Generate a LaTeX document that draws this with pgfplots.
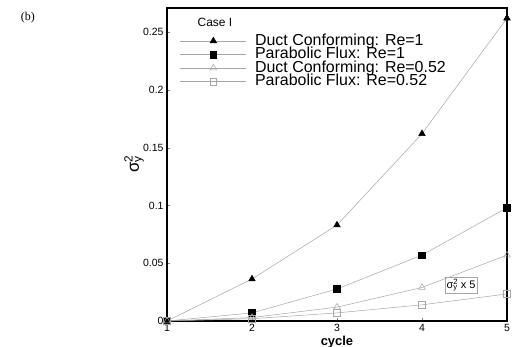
\documentclass[border=0pt]{standalone}
\usepackage{fontspec}
\setmainfont{Liberation Sans}
\newfontfamily\seriffont{Liberation Serif}
\usepackage{pgfplots}
\pgfplotsset{compat=1.18}
\begin{document}
\begin{tikzpicture}
\path[use as bounding box] (-167bp,-26bp) rectangle (348bp,321bp);
\begin{axis}[
  scale only axis, width=340bp, height=313bp,
  xmin=1, xmax=5, ymin=0, ymax=0.2708,
  xtick={1,2,3,4,5}, ytick={0,0.05,0.1,0.15,0.2,0.25},
  yticklabels={0,0.05,0.1,0.15,0.2,0.25},
  tick align=inside, major tick length=3bp,
  xtick pos=bottom, ytick pos=left,
  axis line style={line width=1.2bp},
  tick label style={font=\fontsize{10.5}{12}\selectfont},
  /pgf/number format/assume math mode=true,
  clip=false,
  every axis plot/.append style={gray!70, line width=0.5bp},
  legend image code/.code={\draw[mark repeat=2,mark phase=2] plot coordinates {(0bp,0bp) (33bp,0bp) (66bp,0bp)};},
  legend style={draw=none, fill=none, at={(rel axis cs:0.038,0.915)}, anchor=north west,
    font=\fontsize{16}{16}\selectfont, row sep=1.2bp, inner sep=0bp,
    nodes={inner sep=0.5bp, text height=9.8bp, text depth=1.5bp, font=\fontsize{16}{16}\selectfont}},
  legend cell align=left,
]
\addplot[mark=triangle*, mark size=3.8bp, mark options={black, fill=black}] coordinates {
 (1,0) (2,0.0363) (3,0.083) (4,0.162) (5,0.262)};
\addlegendentry{\hspace{8bp}Duct Conforming: Re=1}
\addplot[mark=square*, mark size=3.3bp, mark options={black, fill=black}] coordinates {
 (1,0) (2,0.007) (3,0.0277) (4,0.057) (5,0.098)};
\addlegendentry{\hspace{8bp}Parabolic Flux: Re=1}
\addplot[mark=triangle, mark size=3.8bp, mark options={gray!70}] coordinates {
 (1,0) (2,0.003) (3,0.012) (4,0.029) (5,0.057)};
\addlegendentry{\hspace{8bp}Duct Conforming: Re=0.52}
\addplot[mark=square, mark size=3.3bp, mark options={gray!70}] coordinates {
 (1,0) (2,0.002) (3,0.007) (4,0.014) (5,0.0234)};
\addlegendentry{\hspace{8bp}Parabolic Flux: Re=0.52}
\node[font=\fontsize{12}{13}\selectfont] at (rel axis cs:0.141,0.955) {Case I};
\node[draw=gray!70, line width=0.5bp, inner sep=1.5bp, font=\fontsize{11}{12}\selectfont] at (axis cs:4.46,0.031) {σ\rlap{\textsuperscript{2}}\textsubscript{y} x 5};
\node[rotate=90, font=\fontsize{17}{18}\selectfont] at (rel axis cs:-0.097,0.50) {σ\rlap{\textsuperscript{2}}\textsubscript{y}};
\node[font=\bfseries\fontsize{13}{14}\selectfont] at (rel axis cs:0.5,-0.067) {cycle};
\node[font=\seriffont\fontsize{12}{13}\selectfont] at (rel axis cs:-0.409,0.968) {(b)};
\end{axis}
\end{tikzpicture}
\end{document}
